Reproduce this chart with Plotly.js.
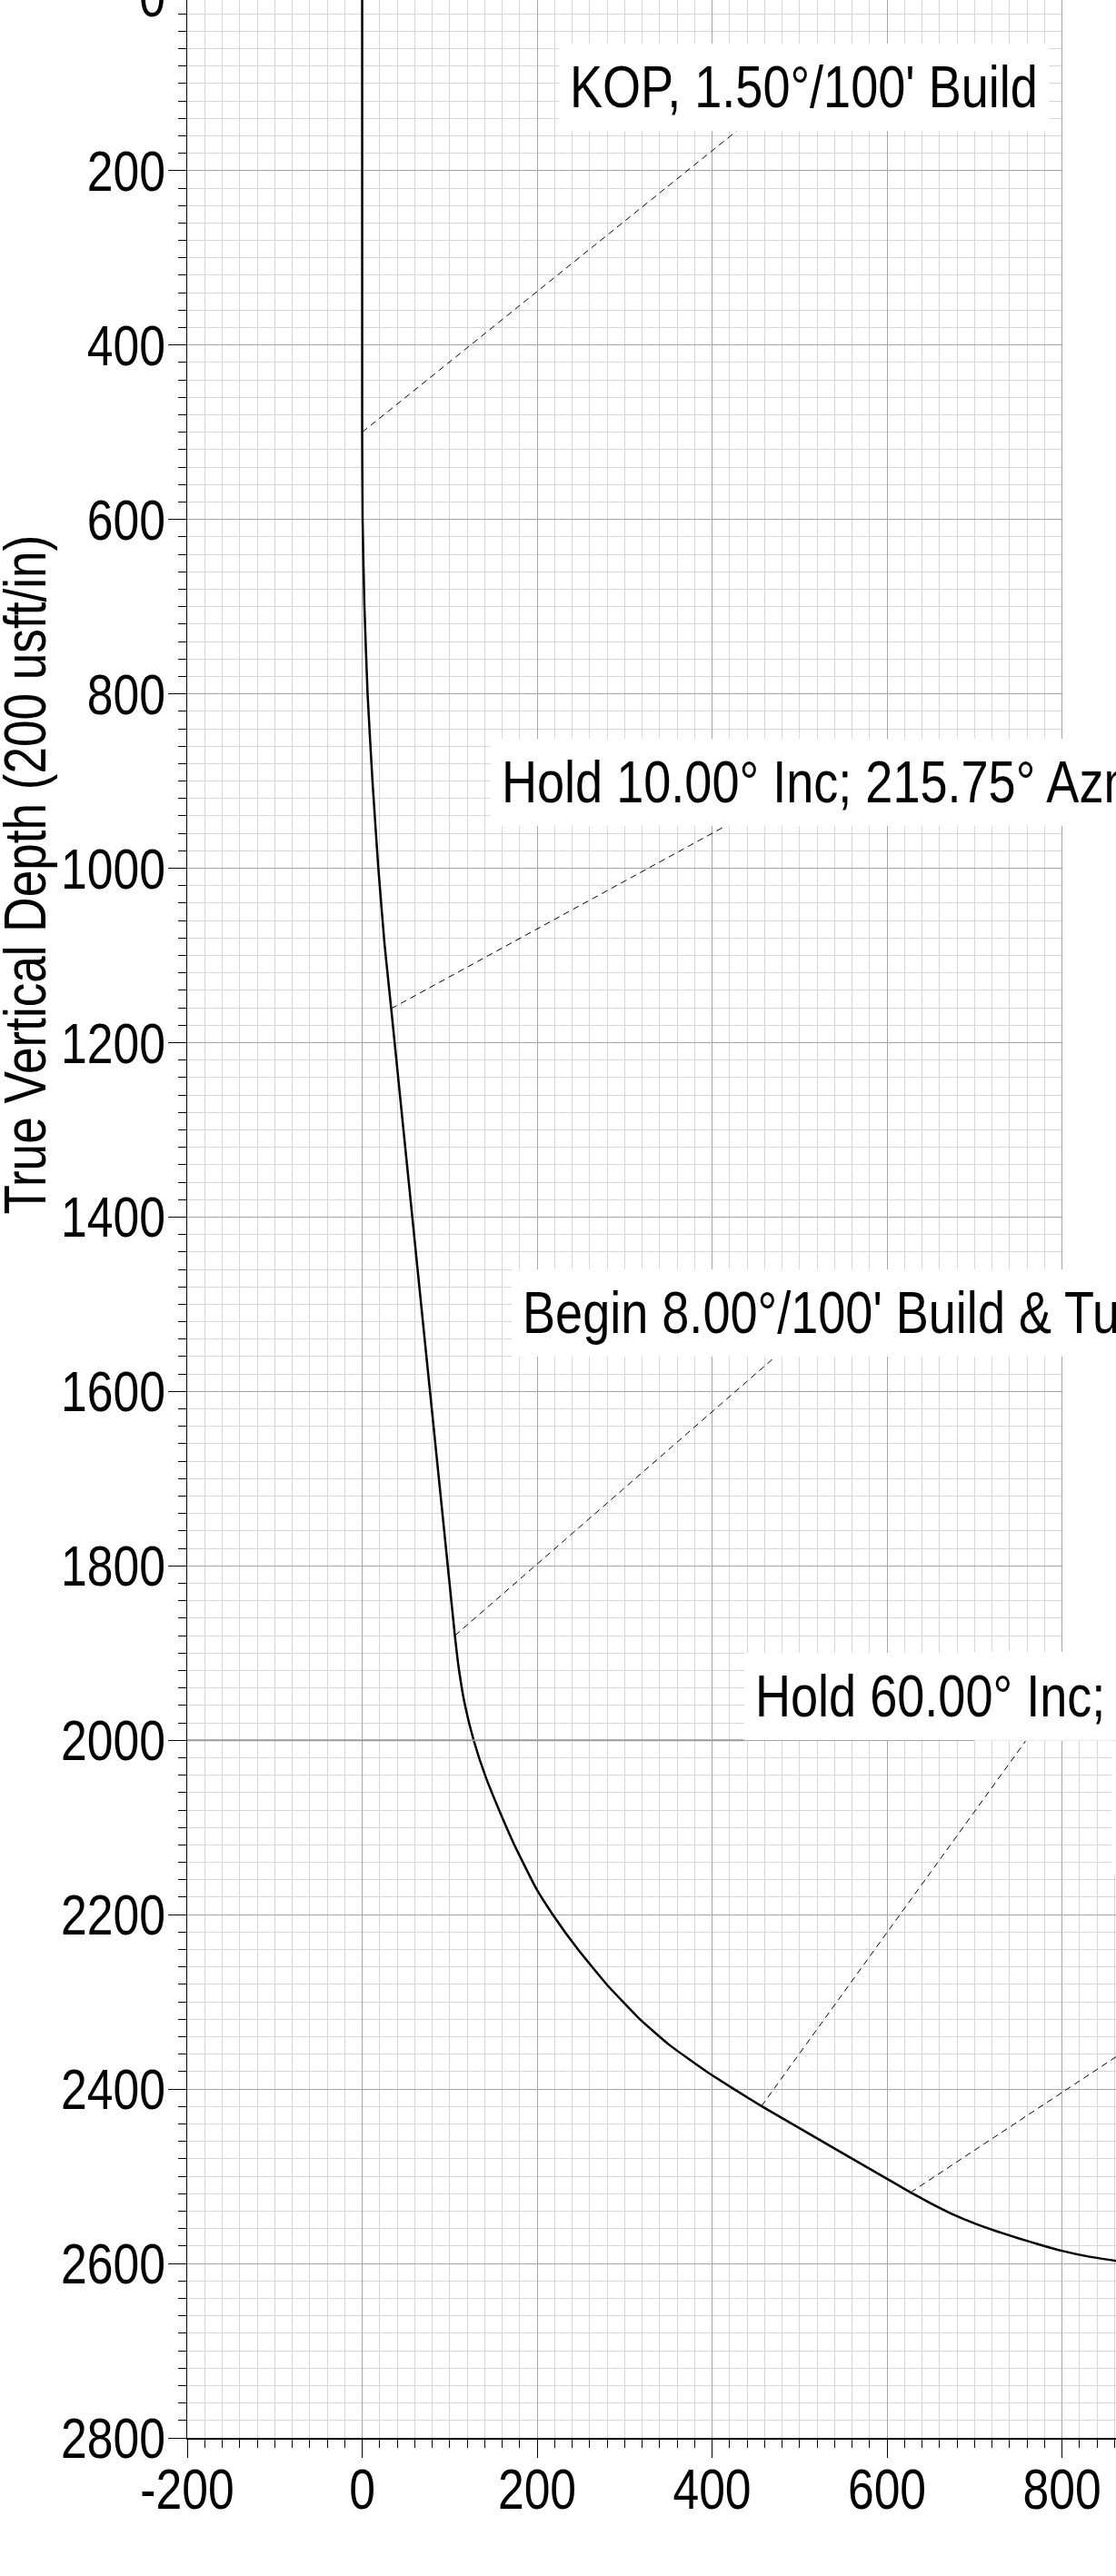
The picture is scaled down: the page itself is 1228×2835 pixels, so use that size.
<!DOCTYPE html>
<html>
<head>
<meta charset="utf-8">
<script src="https://cdn.plot.ly/plotly-3.0.1.min.js"></script>
<style>
  html, body { margin: 0; padding: 0; background: #ffffff; overflow: hidden; width: 1228px; height: 2835px; }
  #chart { position: absolute; left: 0; top: -40px; width: 1228px; height: 2875px; }
</style>
</head>
<body>
<div id="chart"></div>
<script>
// ---- Well path (Vertical Section vs True Vertical Depth) ----
const vsec = [0, 0, 0.5, 2.6, 6.2, 11.8, 18.5, 25.6, 33.2,
              106, 110.8, 117.6, 127.5, 140.5, 156.5, 174, 199, 218, 246.8, 279.6, 317.6, 352, 394, 425, 456.5,
              627, 650, 675, 700, 725, 750, 775, 800, 830, 862];
const tvd  = [0, 500, 600, 700, 800, 900, 1000, 1087, 1161,
              1880, 1920, 1960, 2000, 2040, 2080, 2120, 2170, 2200, 2240, 2280, 2320, 2350, 2380, 2400, 2419.5,
              2518.5, 2531, 2543.5, 2554, 2563, 2571, 2578.5, 2585.5, 2592, 2597];

// ---- Annotation labels ----
const labelText = ["KOP, 1.50°/100' Build",
                   "Hold 10.00° Inc; 215.75° Azm",
                   "Begin 8.00°/100' Build & Turn",
                   "Hold 60.00° Inc;"];
const labelX   = [224.9, 147.3, 171.2, 437.2];
const labelTVD = [104.3, 901.9, 1509.7, 1949.6];

// ---- Dashed leader lines (from well path point to label) ----
const leaderFromX   = [0, 33.2, 106, 456.5, 627];
const leaderFromTVD = [500, 1161, 1880, 2419.5, 2518.5];
const leaderToX     = [428, 413.3, 470.9, 758.3, 1000];
const leaderToTVD   = [154.6, 952.7, 1561.4, 2001, 2271.6];

// ---- Blank (white) panels on the right side ----
const maskX0 = [801, 700, 856.6];
const maskX1 = [1100, 1100, 1100];
const maskT0 = [-20, 1898.5, 2001.5];
const maskT1 = [1900, 2000.5, 2154];

// ---- Reference depth line ----
const refDepth = 2000;
const refX0 = -200, refX1 = 437.2;

// ---- Axis ticks ----
const xTickVals = [-200, 0, 200, 400, 600, 800];
const xTickText = ["-200", "0", "200", "400", "600", "800"];
const xMinor = 20;
const yMajor = 200, yMinor = 20;
const xRange = [-200, 861.8];
const yRange = [2800, -3];
const yTitle = "True Vertical Depth (200 usft/in)";
const yTitleTVD = 1007;

const FONT = "'Liberation Sans', Arial, sans-serif";
// horizontal compression to imitate a narrow sans face
const NARROW_TICK = 0.82, NARROW_LABEL = 0.845, NARROW_TITLE = 0.83;

const shapes = [];
for (let i = 0; i < maskX0.length; i++) {
  shapes.push({type: 'rect', xref: 'x', yref: 'y', x0: maskX0[i], x1: maskX1[i], y0: maskT0[i], y1: maskT1[i],
               fillcolor: '#ffffff', line: {width: 0}, layer: 'above'});
}
shapes.push({type: 'line', xref: 'x', yref: 'y', x0: refX0, x1: refX1, y0: refDepth, y1: refDepth,
             line: {color: '#9a9a9a', width: 2}, layer: 'above'});
for (let i = 0; i < leaderFromX.length; i++) {
  shapes.push({type: 'line', xref: 'x', yref: 'y', x0: leaderFromX[i], y0: leaderFromTVD[i],
               x1: leaderToX[i], y1: leaderToTVD[i],
               line: {color: '#000000', width: 1, dash: '7px,5px'}, layer: 'above'});
}

const annotations = labelText.map((t, i) => ({
  xref: 'x', yref: 'y', x: labelX[i], y: labelTVD[i], text: t, showarrow: false,
  xanchor: 'left', yanchor: 'middle', bgcolor: '#ffffff', borderpad: 12, borderwidth: 0,
  font: {family: FONT, size: 64, color: '#000000'}
}));
annotations.push({
  xref: 'paper', yref: 'y', x: -0.1742, y: yTitleTVD, text: yTitle, showarrow: false, textangle: -90,
  xanchor: 'center', yanchor: 'middle', font: {family: FONT, size: 64, color: '#000000'}
});

const trace = {
  type: 'scatter', mode: 'lines', x: vsec, y: tvd,
  line: {color: '#000000', width: 2.5, shape: 'spline', smoothing: 0.4},
  hoverinfo: 'skip', showlegend: false
};

const layout = {
  width: 1228, height: 2875,
  margin: {l: 206, r: 0, t: 32.5, b: 151.6, pad: 0},
  paper_bgcolor: '#ffffff', plot_bgcolor: '#ffffff',
  showlegend: false,
  xaxis: {
    range: xRange, tickmode: 'array', tickvals: xTickVals, ticktext: xTickText, zeroline: false,
    showgrid: true, gridcolor: '#a6a6a6', gridwidth: 1,
    showline: true, linecolor: '#000000', linewidth: 2,
    ticks: 'outside', ticklen: 20, tickwidth: 1, tickcolor: '#000000', ticklabelstandoff: -20,
    tickfont: {family: FONT, size: 63, color: '#000000'},
    minor: {tickmode: 'linear', dtick: xMinor, tick0: 0, showgrid: true, gridcolor: '#d6d6d6', gridwidth: 1,
            ticks: 'outside', ticklen: 9, tickwidth: 1, tickcolor: '#000000'},
    fixedrange: true
  },
  yaxis: {
    range: yRange, dtick: yMajor, tick0: 0, zeroline: false,
    showgrid: true, gridcolor: '#a6a6a6', gridwidth: 1,
    showline: true, linecolor: '#000000', linewidth: 1.5,
    ticks: 'outside', ticklen: 20, tickwidth: 1, tickcolor: '#000000', ticklabelstandoff: -10,
    tickfont: {family: FONT, size: 63, color: '#000000'},
    minor: {tickmode: 'linear', dtick: yMinor, tick0: 0, showgrid: true, gridcolor: '#d6d6d6', gridwidth: 1,
            ticks: 'outside', ticklen: 9, tickwidth: 1, tickcolor: '#000000'},
    fixedrange: true
  },
  shapes: shapes,
  annotations: annotations
};

function narrowText(el, k) {
  const x = parseFloat(el.getAttribute('x')) || 0;
  const y = parseFloat(el.getAttribute('y')) || 0;
  const t = el.getAttribute('transform') || '';
  el.setAttribute('transform',
    (t + ' translate(' + x + ',' + y + ') scale(' + k + ',1) translate(' + (-x) + ',' + (-y) + ')').trim());
}

Plotly.newPlot('chart', [trace], layout, {staticPlot: true, displayModeBar: false}).then(function (gd) {
  gd.querySelectorAll('.xtick text, .ytick text').forEach(function (el) { narrowText(el, NARROW_TICK); });
  gd.querySelectorAll('g.annotation').forEach(function (g, i) {
    const txt = g.querySelector('text.annotation-text');
    if (!txt) return;
    const isLabel = i < labelText.length;
    const r0 = txt.getBoundingClientRect();
    narrowText(txt, isLabel ? NARROW_LABEL : NARROW_TITLE);
    const r1 = txt.getBoundingClientRect();
    if (isLabel) {
      const rect = g.querySelector('rect.bg');
      const dx = r0.left - r1.left;
      const t = txt.getAttribute('transform') || '';
      txt.setAttribute('transform', ('translate(' + dx + ',0) ' + t).trim());
      if (rect) {
        const w = parseFloat(rect.getAttribute('width')) || 0;
        rect.setAttribute('width', Math.max(0, w - (r0.width - r1.width)));
      }
    }
  });
});
</script>
</body>
</html>
